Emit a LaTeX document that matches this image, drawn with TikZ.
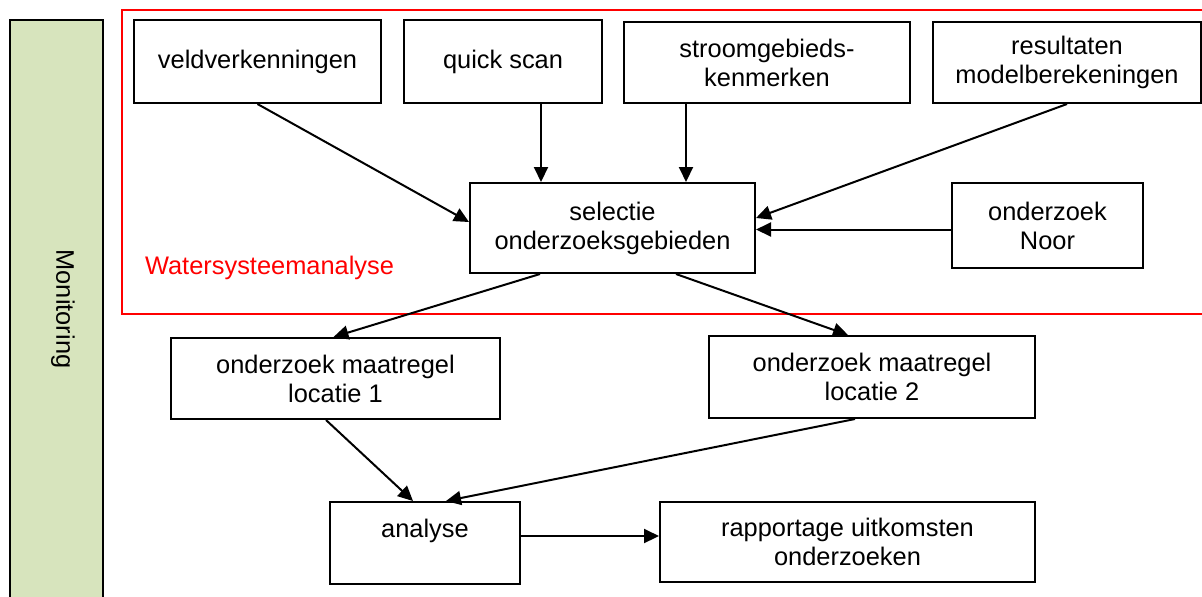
\documentclass[tikz,border=0pt]{standalone}
\usepackage{fontspec}
\setmainfont{Liberation Sans}
\usepackage{tikz}
\usetikzlibrary{calc}
\usetikzlibrary{arrows.meta}
\usetikzlibrary{positioning}
\definecolor{monigreen}{RGB}{215, 228, 189}
\definecolor{wsared}{RGB}{255, 0, 0}

\begin{document}
\begin{tikzpicture}[x=0.5pt, y=-0.5pt,
        every node/.style={font=\fontsize{12.7}{14.5}\selectfont},
        stapbox/.style={draw=black, line width=1pt, align=center, inner sep=0pt},
        pijl/.style={line width=1pt, -{Triangle[length=7.5pt, width=7pt]}}]
            \useasboundingbox (0,0) rectangle (1202,596);
            \node[stapbox, fill=monigreen, minimum width=46.5pt, minimum height=290pt] (monitoring) at (56.5,310) {};
            \node[rotate=-90] (monilabel) at (63,309) {Monitoring};
            \draw[wsared, line width=1pt] (122,10) rectangle (1215,314);
            \node[anchor=west, text=wsared] (wsa) at (138,268) {Watersysteemanalyse};

            \node[stapbox, minimum width=123.5pt, minimum height=41.5pt] (veld)    at (257.5,61.5) {veldverkenningen};
            \node[stapbox, minimum width=99pt,    minimum height=41.5pt] (quick)   at (503,61.5)   {quick scan};
            \node[stapbox, minimum width=143pt,   minimum height=40.5pt] (stroom)  at (767,62.5)   {stroomgebieds-\\kenmerken};
            \node[stapbox, minimum width=134pt,   minimum height=40.5pt] (model)   at (1067,62.5)  {resultaten\\modelberekeningen};
            \node[stapbox, minimum width=142.5pt, minimum height=45pt]   (selectie) at (612.5,228) {selectie\\onderzoeksgebieden};
            \node[stapbox, minimum width=95.5pt,  minimum height=42.5pt] (noor)    at (1047.5,225.5) {onderzoek\\Noor};
            \node[stapbox, minimum width=164.5pt, minimum height=40.5pt] (loc1)    at (335.5,378.5) {onderzoek maatregel\\locatie 1};
            \node[stapbox, minimum width=163pt,   minimum height=41pt]   (loc2)    at (872,377)    {onderzoek maatregel\\locatie 2};
            \node[stapbox, minimum width=95pt,    minimum height=41pt]   (analyse) at (425,543)    {analyse\\~};
            \node[stapbox, minimum width=187.5pt, minimum height=40pt]   (rapport) at (847.5,542)  {rapportage uitkomsten\\onderzoeken};

            \draw[pijl] (veld.south) -- ([yshift=3pt]selectie.west);
            \draw[pijl] ([xshift=19pt]quick.south) -- ([xshift=19pt]quick.south |- selectie.north);
            \draw[pijl] ([xshift=-40.5pt]stroom.south) -- ([xshift=-40.5pt]stroom.south |- selectie.north);
            \draw[pijl] (model.south) -- ([yshift=5pt]selectie.east);
            \draw[pijl] ([yshift=-2pt]noor.west) -- ([yshift=-2pt]noor.west -| selectie.east);
            \draw[pijl] ([xshift=-36.25pt]selectie.south) -- ([xshift=-1pt]loc1.north);
            \draw[pijl] ([xshift=31.75pt]selectie.south) -- ([xshift=-12pt]loc2.north);
            \draw[pijl] ([xshift=-4.75pt]loc1.south) -- ([xshift=-6pt]analyse.north);
            \draw[pijl] ([xshift=-8.5pt]loc2.south) -- ([xshift=10.5pt]analyse.north);
            \draw[pijl] ([yshift=3.5pt]analyse.east) -- ([yshift=3.5pt]analyse.east -| rapport.west);
        \end{tikzpicture}
\end{document}
